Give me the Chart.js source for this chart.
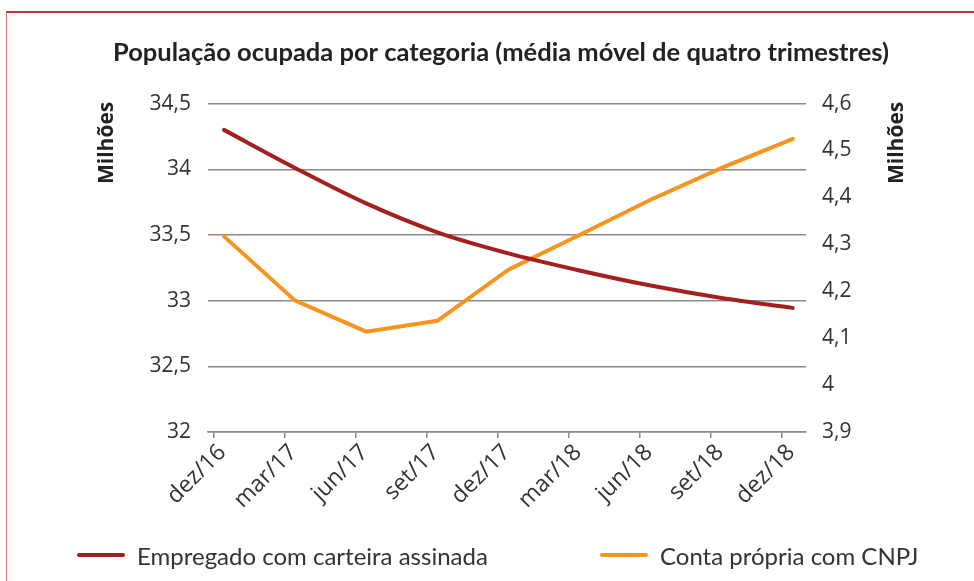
<!DOCTYPE html>
<html>
<head>
<meta charset="utf-8">
<script src="https://cdn.jsdelivr.net/npm/chart.js@4"></script>
<style>
  html, body { margin: 0; padding: 0; background: #fff; }
  body { width: 974px; height: 581px; position: relative; overflow: hidden; }
  .frame {
    position: absolute; left: 6px; top: 11px; width: 980px; height: 600px;
    border-top: 2px solid #c4363a; border-left: 1px solid #d77a7c;
  }
  #chartWrap { position: absolute; left: 0; top: 0; width: 974px; height: 581px; }
  .legend {
    position: absolute; top: 540px; left: 0; width: 974px; height: 30px;
    font-family: Lato, "Open Sans", sans-serif; font-size: 24px; color: #333;
  }
  .legend-item { position: absolute; top: 0; display: flex; align-items: center; height: 30px; }
  .legend-line { display: inline-block; width: 48px; height: 4px; margin-right: 12px; border-radius: 2px; }
</style>
</head>
<body>
<div class="frame"></div>
<div id="chartWrap"><canvas id="popChart" width="974" height="581"></canvas></div>
<div class="legend" id="legend"></div>
<script>
const categories = ['dez/16', 'mar/17', 'jun/17', 'set/17', 'dez/17', 'mar/18', 'jun/18', 'set/18', 'dez/18'];
const empregadoCarteira = [34.30, 34.01, 33.74, 33.52, 33.36, 33.23, 33.115, 33.02, 32.945];
const contaPropriaCnpj = [4.317, 4.180, 4.114, 4.137, 4.246, 4.320, 4.395, 4.463, 4.525];
const leftTicks = [32, 32.5, 33, 33.5, 34, 34.5];
const rightTicks = [3.9, 4.0, 4.1, 4.2, 4.3, 4.4, 4.5, 4.6];

const RED = '#a3201f';
const ORANGE = '#f7941d';
const POINT_SHIFT = 0.15;   // points sit a little to the right of the quarter ticks

const fmt = v => String(Number(v.toFixed(1))).replace('.', ',');

const tickFont = { family: "'Open Sans', sans-serif", size: 21 };

const axisTitles = {
    id: 'axisTitles',
    afterDraw(chart) {
        const ctx = chart.ctx;
        ctx.save();
        ctx.font = "bold 21px 'Open Sans', sans-serif";
        ctx.fillStyle = '#222';
        ctx.textAlign = 'left';
        ctx.textBaseline = 'middle';
        [[107, 184], [897, 184]].forEach(([x, y]) => {
            ctx.save();
            ctx.translate(x, y);
            ctx.rotate(-Math.PI / 2);
            ctx.fillText('Milhões', 0, 0);
            ctx.restore();
        });
        ctx.restore();
    }
};

const ctx = document.getElementById('popChart');
const chart = new Chart(ctx, {
    type: 'line',
    data: {
        datasets: [
            {
                label: 'Empregado com carteira assinada',
                data: empregadoCarteira.map((v, i) => ({ x: i + POINT_SHIFT, y: v })),
                borderColor: RED,
                backgroundColor: RED,
                borderWidth: 4,
                pointRadius: 0,
                tension: 0.4,
                cubicInterpolationMode: 'monotone',
                borderCapStyle: 'round',
                yAxisID: 'y'
            },
            {
                label: 'Conta própria com CNPJ',
                data: contaPropriaCnpj.map((v, i) => ({ x: i + POINT_SHIFT, y: v })),
                borderColor: ORANGE,
                backgroundColor: ORANGE,
                borderWidth: 4,
                pointRadius: 0,
                tension: 0,
                borderCapStyle: 'round',
                yAxisID: 'y1'
            }
        ]
    },
    options: {
        responsive: false,
        animation: false,
        layout: {
            padding: { left: 94, right: 66, top: 20, bottom: 56 }
        },
        plugins: {
            legend: { display: false },
            tooltip: { enabled: false },
            title: {
                display: true,
                text: 'População ocupada por categoria (média móvel de quatro trimestres)',
                color: '#222',
                font: { family: "Lato, 'Open Sans', sans-serif", size: 25.5, weight: 'bold', lineHeight: 1.2 },
                padding: { top: 17, bottom: 36 }
            }
        },
        scales: {
            x: {
                type: 'linear',
                min: -0.075,
                max: 8.336,
                afterBuildTicks: scale => {
                    scale.ticks = categories.map((c, i) => ({ value: i }));
                },
                afterFit: scale => { scale.height = 93; },
                grid: {
                    drawOnChartArea: false,
                    drawTicks: true,
                    tickLength: 6,
                    color: '#8a8a8a',
                    lineWidth: 1.5
                },
                border: { display: true, color: '#8a8a8a', width: 1.5 },
                ticks: {
                    autoSkip: false,
                    minRotation: 45,
                    maxRotation: 45,
                    color: '#333',
                    font: { family: "'Open Sans', sans-serif", size: 23 },
                    padding: 1,
                    labelOffset: 9,
                    callback: v => categories[v]
                }
            },
            y: {
                position: 'left',
                min: 32,
                max: 34.5,
                afterBuildTicks: scale => {
                    scale.ticks = leftTicks.map(v => ({ value: v }));
                },
                afterFit: scale => { scale.width = 114; },
                grid: {
                    color: '#8a8a8a',
                    lineWidth: 1.5,
                    drawTicks: false
                },
                border: { display: false },
                ticks: {
                    color: '#333',
                    font: tickFont,
                    padding: 17,
                    callback: v => fmt(v)
                }
            },
            y1: {
                position: 'right',
                min: 3.9,
                max: 4.6,
                afterBuildTicks: scale => {
                    scale.ticks = rightTicks.map(v => ({ value: v }));
                },
                afterFit: scale => { scale.width = 102; },
                grid: { drawOnChartArea: false, drawTicks: false },
                border: { display: false },
                ticks: {
                    color: '#333',
                    font: tickFont,
                    padding: 16,
                    callback: v => fmt(v)
                }
            }
        }
    },
    plugins: [axisTitles]
});

// html legend built from the datasets
const legendEl = document.getElementById('legend');
const legendX = [77, 600];
chart.data.datasets.forEach((ds, i) => {
    const item = document.createElement('div');
    item.className = 'legend-item';
    item.style.left = legendX[i] + 'px';
    item.innerHTML = '<span class="legend-line" style="background:' + ds.borderColor + '"></span>' + ds.label;
    legendEl.appendChild(item);
});
</script>
</body>
</html>
